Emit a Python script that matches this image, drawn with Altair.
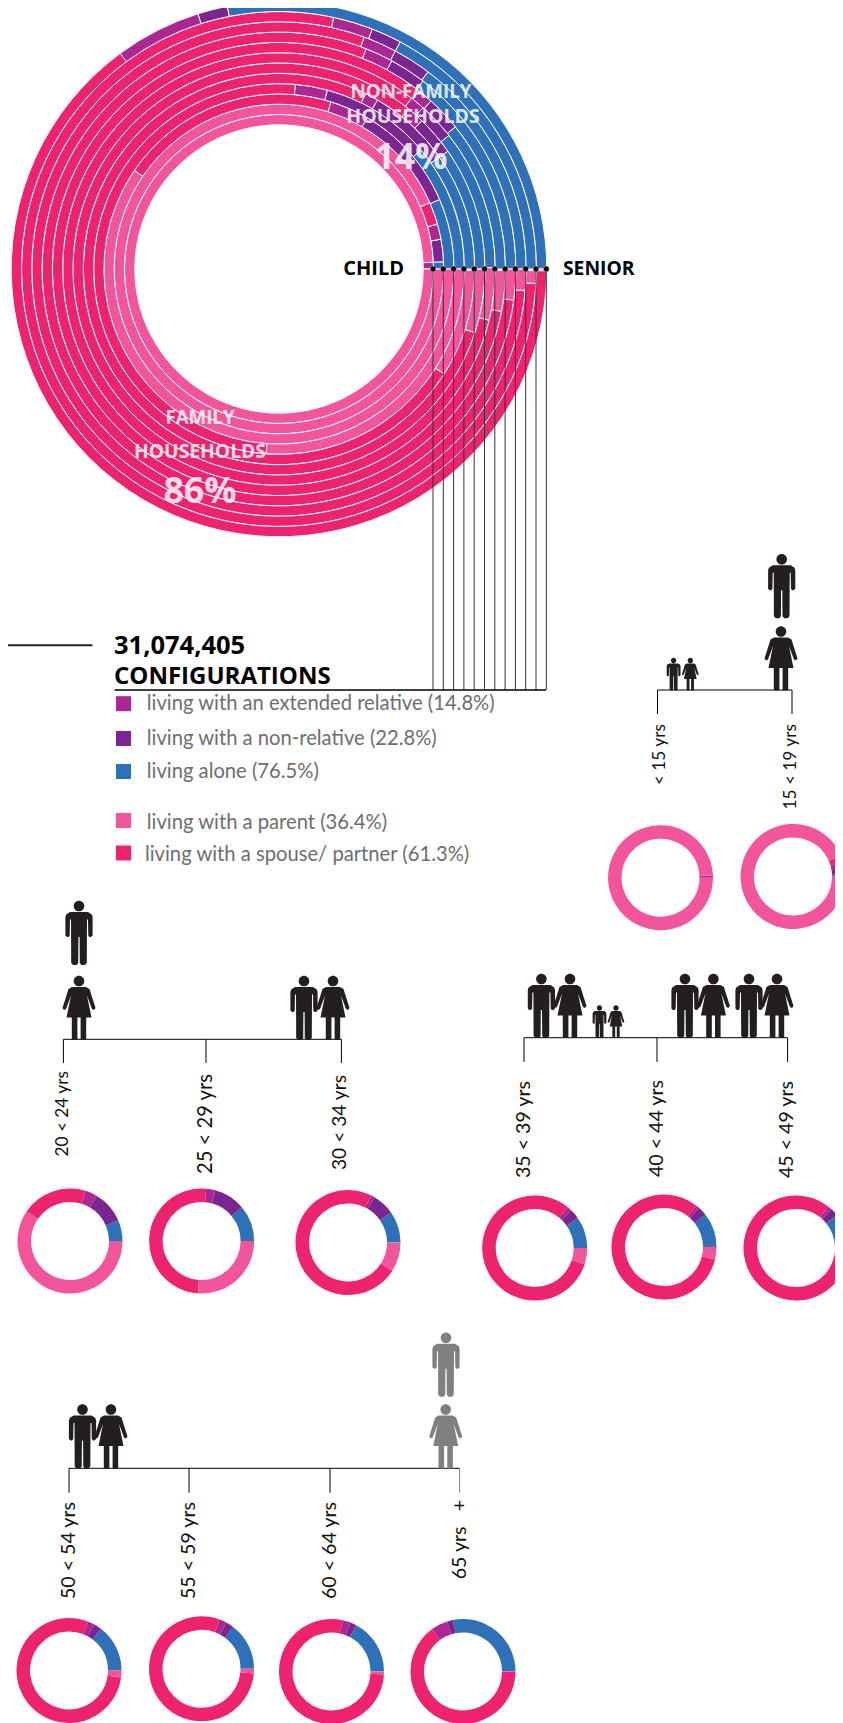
import math
import altair as alt
import pandas as pd

# ---- values (share of each age group, percent) ----
ages = ["< 15 yrs", "15 < 19 yrs", "20 < 24 yrs", "25 < 29 yrs", "30 < 34 yrs", "35 < 39 yrs",
        "40 < 44 yrs", "45 < 49 yrs", "50 < 54 yrs", "55 < 59 yrs", "60 < 64 yrs", "65 yrs \u00a0\u00a0+"]
alone    = [0.0, 0.7, 6.5, 11.1, 9.7, 9.7, 10.6, 10.8, 14.6, 14.7, 17.2, 28.1]
nonrel   = [0.0, 2.2, 10.1, 9.7, 6.9, 3.1, 2.8, 2.5, 2.5, 2.5, 1.9, 1.8]
extended = [0.7, 1.5, 3.6, 2.8, 1.1, 1.4, 1.1, 1.1, 1.9, 2.2, 2.5, 5.2]
spouse   = [0.0, 2.2, 20.3, 50.3, 73.3, 80.8, 81.7, 82.6, 78.9, 79.2, 77.5, 64.8]
parent   = [99.3, 93.4, 59.5, 26.1, 8.9, 5.0, 3.9, 2.9, 2.1, 1.4, 0.8, 0.1]

categories = ["alone", "nonrel", "extended", "spouse", "parent"]
cat_colors = ["#2E71B8", "#7B2690", "#AC2791", "#EE2370", "#F2559C"]
legend_labels = ["living with an extended relative (14.8%)", "living with a non-relative (22.8%)",
                 "living alone (76.5%)", "living with a parent (36.4%)",
                 "living with a spouse/ partner (61.3%)"]
legend_cats = ["extended", "nonrel", "alone", "parent", "spouse"]

# ---- layout ----
X_SCALE = alt.Scale(domain=[8, 835], range=[0, 827])
Y_SCALE = alt.Scale(domain=[8, 1723], range=[0, 1715])
THETA_SCALE = alt.Scale(domain=[0, 100], range=[math.pi / 2, math.pi / 2 - 2 * math.pi])
RADIUS_SCALE = alt.Scale(type="linear", domain=[0, 300], range=[0, 300])

RING_X, RING_Y = 279, 269
ring_step = 10.3
ring_first = 154.5
donut_x = [660.5, 793, 70, 201.6, 348, 534.7, 664, 796, 69, 201.5, 331.5, 463]
donut_y = [877.7, 876.5, 1241, 1241, 1242.5, 1248, 1247, 1248, 1670.5, 1668.8, 1671.5, 1671.5]
label_x = [660, 791, 63.4, 206, 340, 524, 657, 787, 69, 189, 330, 460]
label_y = [724, 724, 1071, 1074, 1075, 1081, 1080, 1081, 1502, 1502, 1502, 1500]
label_fs = [17.3, 17.3, 17.3, 20.2, 19.2, 19.6, 19.6, 19.6, 19.6, 19.6, 19.6, 19.6]
legend_y = [703.7, 738.5, 771.5, 820.5, 853]
legend_text_y = [703.7, 738.5, 771.5, 822.5, 855]
ALL = [alone, nonrel, extended, spouse, parent]

rows = []
for i, a in enumerate(ages):
    for j, c in enumerate(categories):
        if ALL[j][i] > 0:
            rows.append(dict(age=a, cat=c, order=j, share=ALL[j][i], ring=i,
                             dx=donut_x[i], dy=donut_y[i], rx=RING_X, ry=RING_Y,
                             outer=ring_first + ring_step * i,
                             inner=ring_first + ring_step * (i - 1)))
seg = pd.DataFrame(rows)


def X(f="x"):
    return alt.X(f"{f}:Q", scale=X_SCALE, axis=None)


def Y(f="y"):
    return alt.Y(f"{f}:Q", scale=Y_SCALE, axis=None)


color = alt.Color("cat:N", scale=alt.Scale(domain=categories, range=cat_colors), legend=None)
stacked = alt.Chart(seg).transform_stack(stack="share", groupby=["age"],
                                         sort=[alt.SortField("order")],
                                         as_=["start", "end"])
theta = alt.Theta("start:Q", scale=THETA_SCALE)
theta2 = alt.Theta2("end:Q")

big_ring = stacked.mark_arc(stroke="white", strokeWidth=1).encode(
    x=X("rx"), y=Y("ry"), theta=theta, theta2=theta2,
    radius=alt.Radius("outer:Q", scale=RADIUS_SCALE), radius2="inner:Q", color=color)
donuts = stacked.mark_arc(innerRadius=39, outerRadius=52.5).encode(
    x=X("dx"), y=Y("dy"), theta=theta, theta2=theta2, color=color)

# rules
ring_right = [RING_X + 154 + ring_step * i for i in range(12)]
rule_rows = []


def rule(x, y, x2, y2, w=1.0, ink="#000000"):
    rule_rows.append(dict(x=x, y=y, x2=x2, y2=y2, w=w, ink=ink))


for rx in ring_right:
    rule(rx, RING_Y, rx, 690, 1, "#333333")
rule(114.5, 690, 546, 690, 1.3)
rule(8, 645.3, 92.5, 645.3, 2, "#222222")
rule(657.5, 690, 792, 690)
rule(657.5, 690, 657.5, 714)
rule(792, 690, 792, 714)
rule(63.4, 1039.3, 341.4, 1039.3)
for tx in [63.4, 206, 341.4]:
    rule(tx, 1039.3, tx, 1063)
rule(524, 1037.7, 787.6, 1037.7)
for tx in [524, 657, 787.6]:
    rule(tx, 1037.7, tx, 1062)
rule(69, 1468.3, 459.6, 1468.3)
for tx in [69, 189, 330]:
    rule(tx, 1468.3, tx, 1492.7)
rule(459.6, 1468.3, 459.6, 1492.7, 1, "#808080")
rules = alt.Chart(pd.DataFrame(rule_rows)).mark_rule().encode(
    x=X(), y=Y(), x2=alt.X2("x2:Q"), y2=alt.Y2("y2:Q"),
    strokeWidth=alt.StrokeWidth("w:Q", scale=None),
    stroke=alt.Stroke("ink:N", scale=None))

dots = alt.Chart(pd.DataFrame({"x": ring_right, "y": [RING_Y] * 12})).mark_circle(
    color="#000000", opacity=1, size=34, stroke="white", strokeWidth=0.4).encode(x=X(), y=Y())


# people
def symbol(points, head_y=5.0, head_r=5.3, height=64.0):
    def n(px, py):
        return f"{px / (height / 2):.4f},{(py - height / 2) / (height / 2):.4f}"
    body = "M" + " L".join(n(*p) for p in points) + " Z"
    r = head_r / (height / 2)
    hx0 = n(-head_r, head_y)
    hx1 = n(head_r, head_y)
    head = f" M{hx0} A{r:.4f},{r:.4f} 0 1,1 {hx1} A{r:.4f},{r:.4f} 0 1,1 {hx0} Z"
    return body + head


MAN = symbol([(-9, 11), (9, 11), (12.8, 13.5), (13.6, 16), (13.6, 34.5), (12, 36), (10.4, 36),
              (9.3, 34.5), (9, 18.5), (8, 18.5), (7.8, 62), (5.8, 64), (2.4, 64), (0.8, 62),
              (0.6, 36), (-0.6, 36), (-0.8, 62), (-2.4, 64), (-5.8, 64), (-7.8, 62), (-8, 18.5),
              (-9, 18.5), (-9.3, 34.5), (-10.4, 36), (-12, 36), (-13.6, 34.5), (-13.6, 16), (-12.8, 13.5)])
WOMAN = symbol([(-7, 11), (7, 11), (10.5, 13), (16.5, 32), (15, 34), (13, 33), (8, 19.5), (12.5, 41.5),
                (7.2, 41.5), (7.2, 64), (1.6, 64), (1.6, 41.5), (-1.6, 41.5), (-1.6, 64), (-7.2, 64),
                (-7.2, 41.5), (-12.5, 41.5), (-8, 19.5), (-13, 33), (-15, 34), (-16.5, 32), (-10.5, 13)])

ADULT, KID = 64, 32.5
people = [  # kind, x, bottom, height, ink
    ("m", 781.7, 618.3, ADULT, "#231F20"), ("w", 781, 690.5, ADULT, "#231F20"),
    ("m", 673.6, 690.5, KID, "#231F20"), ("w", 690.3, 690.5, KID, "#231F20"),
    ("m", 79, 965, ADULT, "#231F20"), ("w", 79, 1040, ADULT, "#231F20"),
    ("m", 304, 1040, ADULT, "#231F20"), ("w", 333, 1040, ADULT, "#231F20"),
    ("m", 541.4, 1038, ADULT, "#231F20"), ("w", 570, 1038, ADULT, "#231F20"),
    ("m", 599.5, 1038, KID, "#231F20"), ("w", 616, 1038, KID, "#231F20"),
    ("m", 685, 1038, ADULT, "#231F20"), ("w", 713.4, 1038, ADULT, "#231F20"),
    ("m", 749, 1038, ADULT, "#231F20"), ("w", 777, 1038, ADULT, "#231F20"),
    ("m", 82.5, 1468.5, ADULT, "#231F20"), ("w", 111, 1468.5, ADULT, "#231F20"),
    ("m", 446, 1396.7, ADULT, "#808080"), ("w", 445.7, 1468.5, ADULT, "#808080"),
]
icons = []
for kind, shape in [("m", MAN), ("w", WOMAN)]:
    for ink in ["#231F20", "#808080"]:
        sub = [dict(x=p[1], y=p[2] - p[3] / 2, s=p[3] ** 2) for p in people if p[0] == kind and p[4] == ink]
        icons.append(alt.Chart(pd.DataFrame(sub)).mark_point(
            shape=shape, filled=True, color=ink, opacity=1, strokeWidth=0).encode(
            x=X(), y=Y(), size=alt.Size("s:Q", scale=None)))

# legend
legend_df = pd.DataFrame({"cat": legend_cats, "label": legend_labels, "y": legend_y, "ty": legend_text_y,
                          "x": [123.5] * 5, "tx": [146.8, 146.8, 146.8, 146.8, 145]})
legend_sq = alt.Chart(legend_df).mark_square(size=225, opacity=1).encode(x=X(), y=Y(), color=color)
legend_tx = alt.Chart(legend_df).mark_text(
    align="left", baseline="middle", font="Lato", fontSize=20.2, color="#6D6E71").encode(
    x=X("tx"), y=Y("ty"), text="label:N")


# text
def texts(rows, align="center", bold=True, ink="#000000", opacity=1, font="Open Sans"):
    df = pd.DataFrame(rows, columns=["t", "x", "y", "fs"])
    return alt.Chart(df).mark_text(align=align, baseline="middle", font=font, color=ink, opacity=opacity,
                                   fontWeight="bold" if bold else "normal").encode(
        x=X(), y=Y(), text="t:N", size=alt.Size("fs:Q", scale=None))


overlay = texts([("NON-FAMILY", 411, 92, 18.8), ("HOUSEHOLDS", 413, 117, 19.5), ("14%", 411, 158, 35.8),
                 ("FAMILY", 200, 418, 18.7), ("HOUSEHOLDS", 200, 452, 19.3), ("86%", 200, 492, 35.8)],
                ink="#FFFFFF", opacity=0.82)
side_l = texts([("CHILD", 404, 268.7, 20)], align="right")
side_r = texts([("SENIOR", 563, 268.7, 19.3)], align="left")
heading = texts([("31,074,405", 114, 645.5, 25.5), ("CONFIGURATIONS", 114, 677, 24)], align="left")

age_df = pd.DataFrame({"t": ages, "x": label_x, "y": label_y, "fs": label_fs})
age_labels = alt.Chart(age_df).mark_text(angle=270, align="right", baseline="middle",
                                         font="Lato", color="#111111").encode(
    x=X(), y=Y(), text="t:N", size=alt.Size("fs:Q", scale=None))

chart = alt.layer(big_ring, rules, dots, donuts, *icons, legend_sq, legend_tx, overlay, side_l, side_r,
                  heading, age_labels).properties(
    width=827, height=1715, padding=0, autosize="none"
).configure_view(stroke=None)

chart.save("out.html", embed_options={"renderer": "svg", "actions": False})
